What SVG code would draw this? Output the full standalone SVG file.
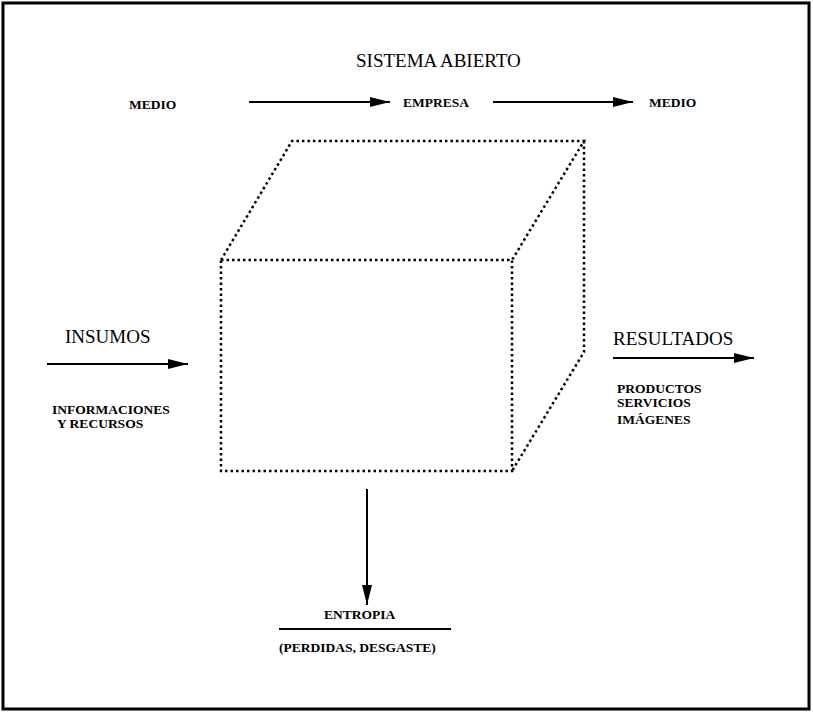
<svg xmlns="http://www.w3.org/2000/svg" width="813" height="713" viewBox="0 0 813 713">
<style>
text{font-family:"Liberation Serif","Times New Roman",serif;fill:#000}
.s{font-size:13.5px;font-weight:bold}.l{font-size:19px}
.a{stroke:#000;stroke-width:2;fill:none}
.d{stroke:#000;stroke-width:2.5;fill:none;stroke-dasharray:2.5 3}
</style>
<defs><marker id="ah" viewBox="0 0 20 10" refX="20" refY="5" markerWidth="20" markerHeight="10" markerUnits="userSpaceOnUse" orient="auto"><path d="M0,0L20,5L0,10z" fill="#000"/></marker></defs>
<rect x="3" y="3" width="806" height="706" fill="#fff" stroke="#000" stroke-width="3"/>
<g id="cube">
<rect class="d" x="221" y="260" width="291" height="211"/>
<path class="d" d="M221,260L292,141L584,141L512,260M584,141L584,352L512,471"/>
</g>
<g id="connectors">
<line class="a" x1="249" y1="102" x2="390" y2="102" marker-end="url(#ah)"/>
<line class="a" x1="493" y1="102" x2="633" y2="102" marker-end="url(#ah)"/>
<line class="a" x1="47" y1="364" x2="188" y2="364" marker-end="url(#ah)"/>
<line class="a" x1="613" y1="358" x2="754" y2="358" marker-end="url(#ah)"/>
<line class="a" x1="367" y1="489" x2="367" y2="605" marker-end="url(#ah)"/>
<line class="a" x1="279" y1="629" x2="451" y2="629"/>
</g>
<g id="labels">
<text class="l" x="356" y="67">SISTEMA ABIERTO</text>
<text class="s" x="129" y="109">MEDIO</text>
<text class="s" x="403" y="107">EMPRESA</text>
<text class="s" x="649" y="107">MEDIO</text>
<text class="l" x="65" y="343">INSUMOS</text>
<text class="s" x="52" y="414">INFORMACIONES</text>
<text class="s" x="57" y="428">Y RECURSOS</text>
<text class="l" x="613" y="345">RESULTADOS</text>
<text class="s" x="617" y="393">PRODUCTOS</text>
<text class="s" x="617" y="407">SERVICIOS</text>
<text class="s" x="617" y="424">IMÁGENES</text>
<text class="s" x="324" y="619">ENTROPIA</text>
<text class="s" x="279" y="652">(PERDIDAS, DESGASTE)</text>
</g>
</svg>
